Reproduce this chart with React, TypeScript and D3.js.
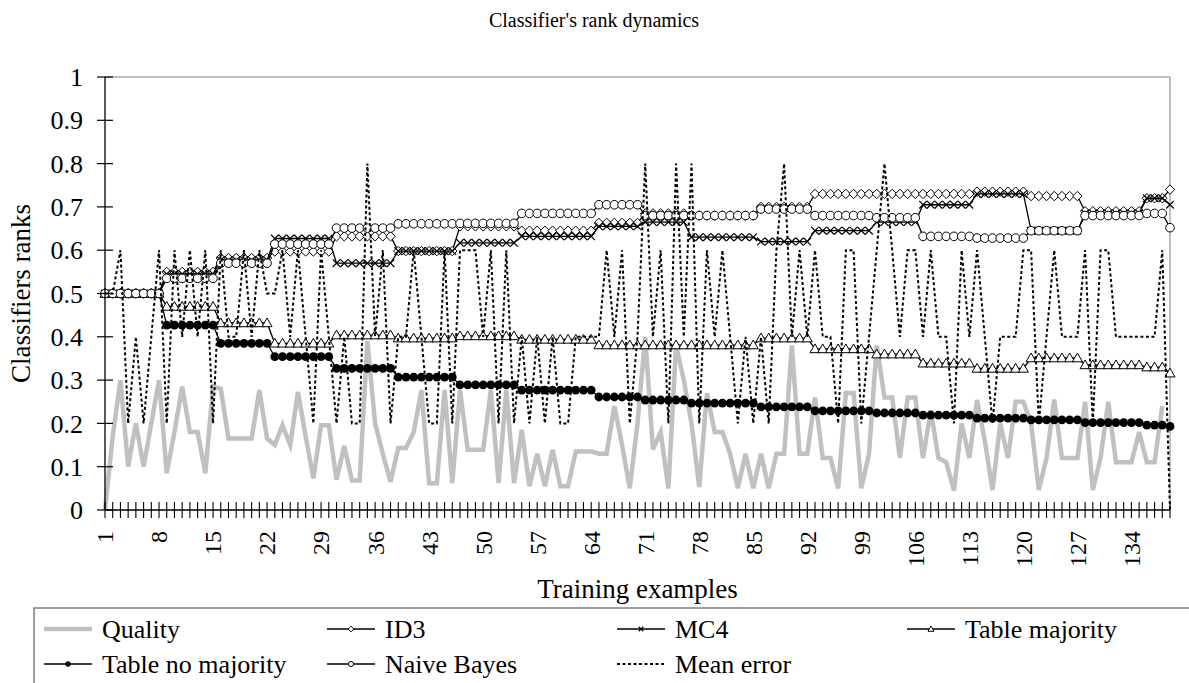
import React from "react";
import * as d3 from "d3";

const categories: number[] = Array.from({ length: 139 }, (_, i) => i + 1);
const xTickLabels: number[] = [1, 8, 15, 22, 29, 36, 43, 50, 57, 64, 71, 78, 85, 92, 99, 106, 113, 120, 127, 134];
const yTicks: number[] = [0, 0.1, 0.2, 0.3, 0.4, 0.5, 0.6, 0.7, 0.8, 0.9, 1];

// first training example of each block where ranks were recomputed
const blockStarts: number[] = [1, 9, 16, 23, 31, 39, 47, 55, 65, 71, 77, 86, 93, 101, 107, 114, 121, 128, 136, 139];
const id3Blocks: number[] = [0.5, 0.55, 0.582, 0.597, 0.632, 0.598, 0.655, 0.645, 0.663, 0.685, 0.68, 0.7, 0.73, 0.73, 0.73, 0.735, 0.725, 0.69, 0.72, 0.74];
const mc4Blocks: number[] = [0.5, 0.545, 0.577, 0.627, 0.57, 0.598, 0.617, 0.632, 0.655, 0.665, 0.63, 0.62, 0.645, 0.665, 0.705, 0.73, 0.645, 0.685, 0.72, 0.705];
const tableMajBlocks: number[] = [0.5, 0.47, 0.432, 0.385, 0.404, 0.397, 0.402, 0.394, 0.381, 0.381, 0.381, 0.397, 0.372, 0.36, 0.339, 0.327, 0.351, 0.335, 0.33, 0.316];
const tableNoMajBlocks: number[] = [0.5, 0.427, 0.385, 0.354, 0.327, 0.307, 0.289, 0.277, 0.261, 0.254, 0.247, 0.238, 0.229, 0.224, 0.219, 0.212, 0.208, 0.202, 0.196, 0.193];
const naiveBayesBlocks: number[] = [0.5, 0.535, 0.57, 0.614, 0.651, 0.661, 0.662, 0.685, 0.705, 0.68, 0.68, 0.695, 0.68, 0.675, 0.632, 0.628, 0.645, 0.68, 0.685, 0.652];

const quality: (number | null)[] = [
  0.0, 0.17, 0.3, 0.1, 0.2, 0.1, 0.2, 0.3, 0.085, 0.18,
  0.285, 0.18, 0.18, 0.085, 0.285, 0.28, 0.165, 0.165, 0.165, 0.165,
  0.277, 0.165, 0.15, 0.196, 0.15, 0.273, 0.17, 0.073, 0.196, 0.196,
  0.07, 0.148, 0.068, 0.068, 0.39, 0.2, 0.13, 0.065, 0.143, 0.143,
  0.18, 0.277, 0.062, 0.062, 0.277, 0.062, 0.277, 0.139, 0.139, 0.139,
  0.277, 0.062, 0.277, 0.062, 0.185, 0.055, 0.13, 0.055, 0.139, 0.055,
  0.055, 0.135, 0.135, 0.135, 0.13, 0.13, 0.24, 0.15, 0.05, 0.2,
  0.4, 0.14, 0.18, 0.05, 0.38, 0.3, 0.2, 0.053, 0.27, 0.18,
  0.18, 0.13, 0.05, 0.13, 0.05, 0.13, 0.05, 0.13, 0.13, 0.38,
  0.13, 0.13, 0.26, 0.12, 0.12, 0.05, 0.27, 0.27, 0.05, 0.13,
  0.38, 0.26, 0.26, 0.12, 0.26, 0.26, 0.12, 0.23, 0.12, 0.11,
  0.045, 0.2, 0.12, 0.254, 0.16, 0.046, 0.2, 0.12, 0.25, 0.25,
  0.2, 0.046, 0.12, 0.255, 0.12, 0.12, 0.12, 0.25, 0.046, 0.12,
  0.25, 0.11, 0.11, 0.11, 0.18, 0.11, 0.11, 0.24, null,
];

const meanError: number[] = [
  0.5, 0.5, 0.6, 0.2, 0.4, 0.2, 0.4, 0.6, 0.2, 0.6,
  0.4, 0.6, 0.4, 0.6, 0.2, 0.6, 0.4, 0.4, 0.6, 0.4,
  0.6, 0.5, 0.5, 0.6, 0.4, 0.6, 0.4, 0.2, 0.6, 0.4,
  0.2, 0.4, 0.2, 0.2, 0.8, 0.4, 0.6, 0.2, 0.4, 0.4,
  0.6, 0.4, 0.2, 0.2, 0.6, 0.2, 0.6, 0.6, 0.6, 0.4,
  0.6, 0.2, 0.6, 0.2, 0.4, 0.2, 0.4, 0.2, 0.4, 0.2,
  0.2, 0.4, 0.4, 0.4, 0.4, 0.6, 0.4, 0.6, 0.2, 0.4,
  0.8, 0.4, 0.6, 0.2, 0.8, 0.4, 0.8, 0.2, 0.6, 0.4,
  0.6, 0.4, 0.2, 0.4, 0.2, 0.4, 0.2, 0.6, 0.8, 0.4,
  0.6, 0.4, 0.6, 0.4, 0.4, 0.2, 0.6, 0.6, 0.2, 0.4,
  0.6, 0.8, 0.6, 0.4, 0.6, 0.6, 0.4, 0.6, 0.4, 0.4,
  0.2, 0.6, 0.4, 0.6, 0.4, 0.2, 0.4, 0.4, 0.4, 0.6,
  0.6, 0.2, 0.4, 0.6, 0.4, 0.4, 0.4, 0.6, 0.2, 0.6,
  0.6, 0.4, 0.4, 0.4, 0.4, 0.4, 0.4, 0.6, 0.0,
];

function expandBlocks(vals: number[]): number[] {
  return categories.map((c) => {
    let k = 0;
    for (let i = 0; i < blockStarts.length; i++) if (c >= blockStarts[i]) k = i;
    return vals[k];
  });
}

const W = 1189;
const H = 683;
const plotL = 105, plotR = 1170, plotT = 77, plotB = 510;
const FONT = '"Liberation Serif", "Times New Roman", Times, Tinos, "DejaVu Serif", serif';

type MarkerKind = "none" | "diamond" | "x" | "triangle" | "dot" | "circle";

function Marker({ kind, x, y, s = 1 }: { kind: MarkerKind; x: number; y: number; s?: number }) {
  if (kind === "diamond") {
    const r = 4.7 * s;
    return <path d={`M${x},${y - r}L${x + r},${y}L${x},${y + r}L${x - r},${y}Z`} fill="#fff" stroke="#000" strokeWidth={1} />;
  }
  if (kind === "x") {
    const r = 3.8 * s;
    return <path d={`M${x - r},${y - r}L${x + r},${y + r}M${x - r},${y + r}L${x + r},${y - r}`} stroke="#000" strokeWidth={1.2} fill="none" />;
  }
  if (kind === "triangle") {
    const r = 5 * s;
    return <path d={`M${x},${y - r}L${x + r},${y + r * 0.75}L${x - r},${y + r * 0.75}Z`} fill="#fff" stroke="#000" strokeWidth={1} />;
  }
  if (kind === "dot") return <circle cx={x} cy={y} r={4.4 * s} fill="#000" />;
  if (kind === "circle") return <circle cx={x} cy={y} r={4.3 * s} fill="#fff" stroke="#000" strokeWidth={1} />;
  return null;
}

interface Series {
  name: string;
  values: (number | null)[];
  stroke: string;
  width: number;
  dash?: string;
  marker: MarkerKind;
}

export default function App() {
  const x = d3.scalePoint<number>().domain(categories).range([plotL, plotR]);
  const y = d3.scaleLinear().domain([0, 1]).range([plotB, plotT]);

  const series: Series[] = [
    { name: "Quality", values: quality, stroke: "#c0c0c0", width: 4.5, marker: "none" },
    { name: "ID3", values: expandBlocks(id3Blocks), stroke: "#000", width: 1.3, marker: "diamond" },
    { name: "MC4", values: expandBlocks(mc4Blocks), stroke: "#000", width: 1.3, marker: "x" },
    { name: "Table majority", values: expandBlocks(tableMajBlocks), stroke: "#000", width: 1.3, marker: "triangle" },
    { name: "Table no majority", values: expandBlocks(tableNoMajBlocks), stroke: "#000", width: 1.3, marker: "dot" },
    { name: "Naive Bayes", values: expandBlocks(naiveBayesBlocks), stroke: "#000", width: 1.3, marker: "circle" },
    { name: "Mean error", values: meanError, stroke: "#000", width: 2, dash: "3,2.5", marker: "none" },
  ];

  const line = d3
    .line<number | null>()
    .defined((d) => d !== null)
    .x((_, i) => x(categories[i]) as number)
    .y((d) => y(d as number));

  const legendText = [102, 385, 675, 965];
  const legendRows = [629, 664];
  const ts = { fontFamily: FONT };

  return (
    <svg width={W} height={H} style={{ position: "absolute", left: 0, top: 0, background: "#fff", fontFamily: FONT }}>
      <rect x={0} y={0} width={W} height={H} fill="#fff" />
      <text style={ts} x={594} y={27} textAnchor="middle" fontSize={20}>Classifier's rank dynamics</text>

      {/* plot border (top / right) */}
      <line x1={plotL} x2={plotR} y1={plotT} y2={plotT} stroke="#808080" strokeWidth={1} />
      <line x1={plotR} x2={plotR} y1={plotT} y2={plotB} stroke="#808080" strokeWidth={1} />

      {series.map((s) => (
        <g key={s.name}>
          <path d={line(s.values) || ""} fill="none" stroke={s.stroke} strokeWidth={s.width} strokeDasharray={s.dash} strokeLinejoin="miter" />
          {s.marker !== "none" &&
            s.values.map((v, i) => (v === null ? null : <Marker key={i} kind={s.marker} x={x(categories[i]) as number} y={y(v)} />))}
        </g>
      ))}

      {/* y axis */}
      <line x1={plotL} x2={plotL} y1={plotT} y2={plotB} stroke="#000" strokeWidth={1.3} />
      {yTicks.map((t) => (
        <g key={t}>
          <line x1={plotL - 8} x2={plotL + 8} y1={y(t)} y2={y(t)} stroke="#000" strokeWidth={1.2} />
          <text style={ts} x={plotL - 22} y={y(t)} dy="0.35em" textAnchor="end" fontSize={26}>{t}</text>
        </g>
      ))}

      {/* x axis */}
      <line x1={plotL} x2={plotR} y1={plotB} y2={plotB} stroke="#000" strokeWidth={1.3} />
      {categories.map((c) => (
        <line key={c} x1={x(c)} x2={x(c)} y1={plotB - 8} y2={plotB + 8} stroke="#000" strokeWidth={1.1} />
      ))}
      {xTickLabels.map((c) => (
        <text style={ts} key={c} transform={`translate(${x(c)},${plotB + 21}) rotate(-90)`} dy="0.35em" textAnchor="end" fontSize={24}>{c}</text>
      ))}

      <text style={ts} x={(plotL + plotR) / 2} y={598} textAnchor="middle" fontSize={27}>Training examples</text>
      <text style={ts} transform={`translate(30,${(plotT + plotB) / 2}) rotate(-90)`} textAnchor="middle" fontSize={27}>Classifiers ranks</text>

      {/* legend */}
      <rect x={34} y={608} width={1180} height={120} fill="none" stroke="#808080" strokeWidth={1.5} />
      {series.map((s, i) => {
        const tx = legendText[i % 4];
        const cy = legendRows[Math.floor(i / 4)];
        const x0 = tx - 58;
        return (
          <g key={s.name}>
            <line x1={x0} x2={x0 + 48} y1={cy} y2={cy} stroke={s.stroke} strokeWidth={s.name === "Quality" ? 4.5 : s.width} strokeDasharray={s.dash} />
            <Marker kind={s.marker} x={x0 + 24} y={cy} s={0.6} />
            <text style={ts} x={tx} y={cy} dy="0.35em" fontSize={26}>{s.name}</text>
          </g>
        );
      })}
    </svg>
  );
}
